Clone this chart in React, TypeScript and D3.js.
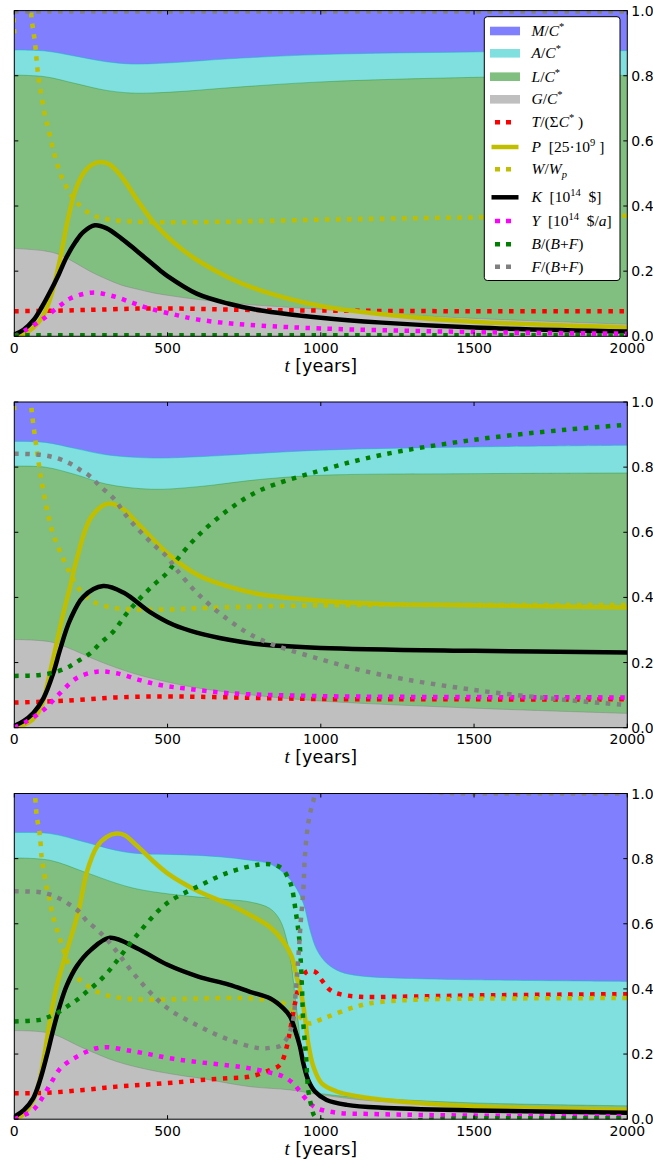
import React from "react";
import * as d3 from "d3";

type Pt = [number, number];

const X_TICKS = [0, 500, 1000, 1500, 2000];
const Y_TICKS = [0, 0.2, 0.4, 0.6, 0.8, 1.0];

// ---------- Panel 1 ----------
const p1G: Pt[] = [[0,0.27],[100,0.262],[150,0.25],[200,0.225],[250,0.198],[300,0.176],[350,0.157],[400,0.145],[450,0.134],[500,0.126],[600,0.113],[800,0.095],[1000,0.083],[1200,0.07],[1500,0.055],[2000,0.037]];
const p1L: Pt[] = [[0,0.802],[100,0.797],[200,0.776],[300,0.755],[380,0.747],[450,0.747],[550,0.752],[700,0.763],[1000,0.781],[1500,0.795],[2000,0.801]];
const p1A: Pt[] = [[0,0.879],[100,0.876],[200,0.86],[300,0.843],[380,0.836],[450,0.837],[550,0.842],[700,0.852],[1000,0.865],[1500,0.873],[2000,0.877]];
const p1T: Pt[] = [[0,0.077],[100,0.078],[200,0.08],[280,0.082],[400,0.085],[540,0.085],[700,0.082],[1000,0.079],[1500,0.077],[2000,0.077]];
const p1P: Pt[] = [[0,0],[30,0.008],[60,0.025],[85,0.05],[105,0.085],[125,0.14],[150,0.24],[175,0.36],[200,0.45],[225,0.5],[250,0.525],[280,0.535],[310,0.528],[350,0.49],[400,0.42],[450,0.355],[500,0.305],[550,0.265],[600,0.232],[700,0.18],[800,0.142],[1000,0.093],[1200,0.068],[1500,0.045],[2000,0.027]];
const p1W: Pt[] = [[0,0.93],[8,1.06],[45,1.06],[57,0.97],[67,0.905],[78,0.8],[90,0.73],[102,0.669],[111,0.638],[125,0.58],[150,0.5],[175,0.45],[200,0.415],[250,0.375],[300,0.36],[400,0.352],[500,0.35],[700,0.352],[1000,0.358],[1500,0.365],[2000,0.37]];
const p1K: Pt[] = [[0,0.005],[30,0.02],[63,0.05],[90,0.09],[116,0.135],[145,0.19],[171,0.244],[200,0.29],[225,0.32],[263,0.341],[300,0.332],[350,0.3],[400,0.262],[475,0.203],[500,0.185],[595,0.131],[700,0.1],[800,0.08],[1000,0.057],[1200,0.042],[1500,0.027],[2000,0.015]];
const p1Y: Pt[] = [[0,0],[35,0.018],[95,0.054],[150,0.095],[182,0.116],[254,0.134],[323,0.123],[388,0.102],[443,0.085],[530,0.065],[595,0.052],[700,0.04],[800,0.033],[1000,0.024],[1500,0.013],[2000,0.008]];
const p1B: Pt[] = [[0,0.003],[1000,0.003],[2000,0.003]];
const p1F: Pt[] = [[0,0.997],[1000,0.997],[2000,0.997]];

// ---------- Panel 2 ----------
const p2G: Pt[] = [[0,0.271],[116,0.264],[171,0.247],[280,0.203],[388,0.167],[497,0.141],[606,0.121],[800,0.098],[1000,0.082],[1500,0.06],[2000,0.044]];
const p2L: Pt[] = [[0,0.803],[100,0.8],[200,0.777],[300,0.748],[450,0.732],[600,0.74],[800,0.762],[1000,0.775],[1500,0.78],[2000,0.782]];
const p2A: Pt[] = [[0,0.879],[100,0.876],[200,0.857],[300,0.838],[450,0.828],[600,0.832],[1000,0.852],[1500,0.862],[2000,0.867]];
const p2T: Pt[] = [[0,0.077],[171,0.083],[334,0.093],[497,0.096],[650,0.094],[1000,0.088],[1500,0.087],[2000,0.087]];
const p2P: Pt[] = [[0,0],[30,0.008],[60,0.025],[80,0.05],[95,0.085],[116,0.167],[138,0.259],[160,0.351],[182,0.433],[203,0.515],[250,0.645],[305,0.688],[350,0.675],[400,0.63],[500,0.535],[600,0.468],[700,0.433],[800,0.41],[1000,0.39],[1200,0.38],[1500,0.376],[2000,0.369]];
const p2W: Pt[] = [[0,0.975],[8,1.06],[45,1.06],[58,0.96],[80,0.81],[100,0.7],[125,0.6],[150,0.54],[182,0.474],[214,0.423],[258,0.387],[323,0.368],[400,0.363],[500,0.363],[600,0.367],[1000,0.376],[1500,0.377],[2000,0.377]];
const p2K: Pt[] = [[0,0.006],[30,0.02],[62,0.045],[95,0.09],[127,0.167],[149,0.239],[182,0.331],[225,0.402],[290,0.435],[356,0.415],[443,0.355],[519,0.316],[595,0.292],[700,0.27],[800,0.256],[1000,0.245],[1500,0.236],[2000,0.231]];
const p2Y: Pt[] = [[0,0],[38,0.018],[95,0.054],[149,0.106],[203,0.152],[269,0.172],[334,0.167],[410,0.146],[475,0.131],[552,0.121],[700,0.106],[1000,0.097],[1500,0.094],[2000,0.093]];
const p2B: Pt[] = [[0,0.159],[84,0.162],[138,0.172],[182,0.189],[214,0.208],[247,0.228],[280,0.259],[323,0.295],[367,0.351],[410,0.397],[454,0.438],[497,0.474],[530,0.515],[600,0.59],[700,0.67],[800,0.728],[1000,0.79],[1200,0.838],[1500,0.884],[1800,0.915],[2000,0.93]];
const p2F: Pt[] = [[0,0.841],[84,0.838],[138,0.828],[182,0.811],[214,0.792],[247,0.772],[280,0.741],[323,0.705],[367,0.649],[410,0.603],[454,0.562],[497,0.526],[530,0.485],[600,0.41],[700,0.33],[800,0.272],[1000,0.21],[1200,0.162],[1500,0.116],[1800,0.085],[2000,0.07]];

// ---------- Panel 3 ----------
const p3G: Pt[] = [[0,0.272],[116,0.264],[226,0.218],[334,0.177],[443,0.151],[552,0.133],[606,0.126],[769,0.1],[900,0.09],[1000,0.075],[1161,0.057],[1500,0.043],[2000,0.032]];
const p3L: Pt[] = [[0,0.802],[116,0.795],[226,0.76],[334,0.724],[400,0.707],[500,0.692],[600,0.682],[700,0.674],[769,0.667],[834,0.647],[867,0.611],[889,0.55],[905,0.468],[916,0.376],[927,0.294],[938,0.192],[954,0.12],[981,0.085],[1030,0.075],[1161,0.065],[1500,0.05],[2000,0.041]];
const p3A: Pt[] = [[0,0.88],[116,0.877],[226,0.852],[334,0.825],[400,0.816],[500,0.813],[600,0.81],[700,0.803],[769,0.795],[830,0.785],[867,0.765],[910,0.724],[943,0.663],[965,0.58],[987,0.52],[1019,0.479],[1063,0.453],[1128,0.44],[1300,0.432],[1500,0.428],[2000,0.423]];
const p3T: Pt[] = [[0,0.08],[106,0.081],[226,0.09],[334,0.1],[443,0.107],[552,0.115],[606,0.12],[700,0.126],[769,0.131],[834,0.151],[867,0.167],[889,0.223],[900,0.274],[916,0.356],[932,0.417],[954,0.453],[981,0.453],[1003,0.427],[1030,0.397],[1063,0.384],[1128,0.376],[1250,0.376],[1500,0.38],[2000,0.384]];
const p3P: Pt[] = [[0,0],[30,0.015],[62,0.06],[80,0.11],[95,0.18],[116,0.3],[138,0.407],[166,0.5],[209,0.637],[237,0.76],[269,0.836],[302,0.867],[334,0.877],[360,0.872],[400,0.84],[450,0.795],[500,0.755],[600,0.7],[700,0.66],[769,0.627],[834,0.59],[878,0.545],[905,0.5],[921,0.437],[938,0.376],[948,0.315],[959,0.233],[976,0.161],[1003,0.11],[1052,0.085],[1128,0.069],[1200,0.06],[1500,0.04],[2000,0.029]];
const p3W: Pt[] = [[0,1.1],[55,1.1],[67,1.0],[73,0.933],[78,0.903],[84,0.867],[89,0.805],[95,0.77],[106,0.709],[117,0.667],[122,0.64],[150,0.55],[193,0.448],[236,0.412],[280,0.387],[334,0.374],[410,0.368],[508,0.368],[584,0.37],[700,0.372],[769,0.371],[834,0.366],[878,0.356],[910,0.335],[943,0.305],[965,0.294],[997,0.305],[1030,0.317],[1096,0.34],[1161,0.356],[1310,0.367],[1500,0.37],[2000,0.372]];
const p3K: Pt[] = [[0,0.008],[31,0.028],[62,0.065],[84,0.12],[106,0.195],[127,0.275],[149,0.35],[171,0.41],[204,0.47],[250,0.52],[312,0.557],[400,0.525],[500,0.474],[600,0.438],[700,0.413],[769,0.391],[834,0.371],[878,0.34],[900,0.315],[916,0.274],[932,0.223],[943,0.172],[959,0.12],[981,0.085],[1019,0.059],[1085,0.044],[1200,0.035],[1500,0.027],[2000,0.02]];
const p3Y: Pt[] = [[0,0],[30,0.012],[62,0.029],[84,0.055],[116,0.105],[149,0.155],[182,0.18],[204,0.192],[236,0.207],[269,0.218],[302,0.221],[378,0.21],[443,0.199],[508,0.187],[584,0.177],[700,0.165],[769,0.156],[834,0.143],[878,0.131],[910,0.11],[932,0.085],[959,0.054],[987,0.034],[1052,0.02],[1161,0.016],[1500,0.011],[2000,0.008]];
const p3B: Pt[] = [[0,0.3],[84,0.305],[106,0.312],[138,0.325],[171,0.345],[204,0.366],[236,0.391],[269,0.417],[302,0.448],[329,0.479],[400,0.565],[494,0.66],[600,0.715],[700,0.758],[800,0.782],[834,0.783],[872,0.771],[894,0.74],[905,0.713],[916,0.652],[930,0.55],[938,0.417],[943,0.295],[952,0.192],[959,0.09],[970,0.039],[987,0.003],[1500,0.003],[2000,0.003]];
const p3F: Pt[] = [[0,0.7],[84,0.697],[116,0.69],[149,0.677],[182,0.658],[214,0.635],[236,0.609],[269,0.583],[302,0.552],[329,0.521],[400,0.435],[494,0.345],[600,0.287],[700,0.244],[800,0.218],[834,0.219],[872,0.228],[905,0.284],[919,0.4],[927,0.5],[934,0.6],[943,0.703],[948,0.805],[959,0.908],[975,0.975],[987,1.0],[1500,1.0],[2000,1.0]];

const PANELS = [
  { G: p1G, L: p1L, A: p1A, T: p1T, P: p1P, W: p1W, K: p1K, Y: p1Y, B: p1B, F: p1F },
  { G: p2G, L: p2L, A: p2A, T: p2T, P: p2P, W: p2W, K: p2K, Y: p2Y, B: p2B, F: p2F },
  { G: p3G, L: p3L, A: p3A, T: p3T, P: p3P, W: p3W, K: p3K, Y: p3Y, B: p3B, F: p3F },
];

// layout
const LEFT = 14.3;
const PW = 613;
const PH = 325.7;
const TOPS = [10.6, 402, 793.5];

const C_M = "#8080ff";
const C_A = "#80dfdf";
const C_L = "#80bf80";
const C_G = "#bfbfbf";
const C_YEL = "#bfbf00";

const LINE_W = 4.5;
const DOT = "4.5 6.5";

type Seg = { t: string; i?: boolean; sup?: boolean; sub?: boolean };

const LEGEND: { kind: "patch" | "solid" | "dot"; color: string; label: Seg[] }[] = [
  { kind: "patch", color: C_M, label: [{ t: "M", i: true }, { t: "/" }, { t: "C", i: true }, { t: "*", sup: true }] },
  { kind: "patch", color: C_A, label: [{ t: "A", i: true }, { t: "/" }, { t: "C", i: true }, { t: "*", sup: true }] },
  { kind: "patch", color: C_L, label: [{ t: "L", i: true }, { t: "/" }, { t: "C", i: true }, { t: "*", sup: true }] },
  { kind: "patch", color: C_G, label: [{ t: "G", i: true }, { t: "/" }, { t: "C", i: true }, { t: "*", sup: true }] },
  { kind: "dot", color: "#ff0000", label: [{ t: "T", i: true }, { t: "/(Σ" }, { t: "C", i: true }, { t: "*", sup: true }, { t: " )" }] },
  { kind: "solid", color: C_YEL, label: [{ t: "P", i: true }, { t: "  [25·10" }, { t: "9", sup: true }, { t: " ]" }] },
  { kind: "dot", color: C_YEL, label: [{ t: "W", i: true }, { t: "/" }, { t: "W", i: true }, { t: "p", i: true, sub: true }] },
  { kind: "solid", color: "#000000", label: [{ t: "K", i: true }, { t: "  [10" }, { t: "14", sup: true }, { t: "  $]" }] },
  { kind: "dot", color: "#ff00ff", label: [{ t: "Y", i: true }, { t: "  [10" }, { t: "14", sup: true }, { t: "  $/" }, { t: "a", i: true }, { t: "]" }] },
  { kind: "dot", color: "#008000", label: [{ t: "B", i: true }, { t: "/(" }, { t: "B", i: true }, { t: "+" }, { t: "F", i: true }, { t: ")" }] },
  { kind: "dot", color: "#808080", label: [{ t: "F", i: true }, { t: "/(" }, { t: "B", i: true }, { t: "+" }, { t: "F", i: true }, { t: ")" }] },
];
const LEGEND_ROWS = [31, 53.3, 76.7, 99.3, 122.3, 147, 169.3, 197.3, 221, 244.3, 266.7];

function renderLabel(segs: Seg[]) {
  const out: React.ReactNode[] = [];
  let shift = 0;
  segs.forEach((s, k) => {
    let target = 0;
    if (s.sup) target = -6;
    if (s.sub) target = 4;
    const dy = target - shift;
    shift = target;
    out.push(
      <tspan
        key={k}
        dy={dy}
        fontStyle={s.i ? "italic" : "normal"}
        fontSize={s.sup || s.sub ? 10.5 : 15.5}
        style={{ whiteSpace: "pre" }}
      >
        {s.t}
      </tspan>
    );
  });
  return out;
}

function Panel({ idx }: { idx: number }) {
  const top = TOPS[idx];
  const d = PANELS[idx];
  const x = d3.scaleLinear().domain([0, 2000]).range([LEFT, LEFT + PW]);
  const y = d3.scaleLinear().domain([0, 1]).range([top + PH, top]);
  const curve = d3.curveCatmullRom.alpha(0.5);
  const line = d3.line<Pt>().x((p) => x(p[0])).y((p) => y(p[1])).curve(curve);
  const area = d3
    .area<Pt>()
    .x((p) => x(p[0]))
    .y0(y(0))
    .y1((p) => y(p[1]))
    .curve(curve);
  const clipId = `clip${idx}`;
  const series: { data: Pt[]; color: string; dot: boolean }[] = [
    { data: d.T, color: "#ff0000", dot: true },
    { data: d.P, color: C_YEL, dot: false },
    { data: d.W, color: C_YEL, dot: true },
    { data: d.K, color: "#000000", dot: false },
    { data: d.Y, color: "#ff00ff", dot: true },
    { data: d.B, color: "#008000", dot: true },
    { data: d.F, color: "#808080", dot: true },
  ];
  const bottom = top + PH;
  const right = LEFT + PW;
  return (
    <g>
      <defs>
        <clipPath id={clipId}>
          <rect x={LEFT} y={top} width={PW} height={PH} />
        </clipPath>
      </defs>
      <g clipPath={`url(#${clipId})`}>
        <rect x={LEFT} y={top} width={PW} height={PH} fill={C_M} />
        <path d={area(d.A) || ""} fill={C_A} />
        <path d={line(d.A) || ""} fill="none" stroke="rgba(0,191,191,0.45)" strokeWidth={1} />
        <path d={area(d.L) || ""} fill={C_L} />
        <path d={line(d.L) || ""} fill="none" stroke="rgba(0,128,0,0.3)" strokeWidth={1} />
        <path d={area(d.G) || ""} fill={C_G} />
        <path d={line(d.G) || ""} fill="none" stroke="rgba(128,128,128,0.45)" strokeWidth={1} />
        {series.map((s, k) => (
          <path
            key={k}
            d={line(s.data) || ""}
            fill="none"
            stroke={s.color}
            strokeWidth={LINE_W}
            strokeDasharray={s.dot ? DOT : undefined}
            strokeLinecap="butt"
            strokeLinejoin="round"
          />
        ))}
      </g>
      {/* frame */}
      <rect x={LEFT} y={top} width={PW} height={PH} fill="none" stroke="#000" strokeWidth={1} />
      {/* ticks */}
      {X_TICKS.map((t) => (
        <g key={`xt${t}`}>
          <line x1={x(t)} x2={x(t)} y1={bottom} y2={bottom - 4} stroke="#000" strokeWidth={1} />
          <line x1={x(t)} x2={x(t)} y1={top} y2={top + 4} stroke="#000" strokeWidth={1} />
          <text
            x={x(t)}
            y={bottom + 16.5}
            textAnchor="middle"
            fontFamily="DejaVu Sans"
            fontSize={14}
            fill="#000"
          >
            {t}
          </text>
        </g>
      ))}
      {Y_TICKS.map((t) => (
        <g key={`yt${t}`}>
          <line x1={LEFT} x2={LEFT + 4} y1={y(t)} y2={y(t)} stroke="#000" strokeWidth={1} />
          <line x1={right} x2={right - 4} y1={y(t)} y2={y(t)} stroke="#000" strokeWidth={1} />
          <text x={right + 4} y={y(t) + 5} fontFamily="DejaVu Sans" fontSize={14} fill="#000">
            {t.toFixed(1)}
          </text>
        </g>
      ))}
      <text
        x={LEFT + PW / 2}
        y={bottom + 35.5}
        textAnchor="middle"
        fontFamily="DejaVu Sans"
        fontSize={17.5}
        fill="#000"
      >
        <tspan fontFamily="Liberation Serif" fontStyle="italic" fontSize={19}>
          t
        </tspan>
        <tspan> [years]</tspan>
      </text>
      {idx === 0 && <Legend />}
    </g>
  );
}

function Legend() {
  const bx = 484.3;
  const by = 16.7;
  const bw = 135.7;
  const bh = 263.8;
  return (
    <g>
      <rect x={bx} y={by} width={bw} height={bh} rx={3} fill="#fff" stroke="#000" strokeWidth={1} />
      {LEGEND.map((e, k) => {
        const cy = LEGEND_ROWS[k];
        let sw: React.ReactNode;
        if (e.kind === "patch") {
          sw = <rect x={490} y={cy - 4.3} width={30} height={8.6} fill={e.color} />;
        } else if (e.kind === "solid") {
          sw = <line x1={491.5} x2={518.5} y1={cy} y2={cy} stroke={e.color} strokeWidth={LINE_W} />;
        } else {
          sw = (
            <line
              x1={495}
              x2={511}
              y1={cy}
              y2={cy}
              stroke={e.color}
              strokeWidth={LINE_W}
              strokeDasharray="5 6"
            />
          );
        }
        return (
          <g key={k}>
            {sw}
            <text x={531.5} y={cy + 5} fontFamily="Liberation Serif" fontSize={15.5} fill="#000">
              {renderLabel(e.label)}
            </text>
          </g>
        );
      })}
    </g>
  );
}

export default function App() {
  return (
    <svg
      width={653}
      height={1163}
      style={{ position: "absolute", left: 0, top: 0, background: "#fff" }}
    >
      <rect x={0} y={0} width={653} height={1163} fill="#fff" />
      {[0, 1, 2].map((i) => (
        <Panel key={i} idx={i} />
      ))}
    </svg>
  );
}
